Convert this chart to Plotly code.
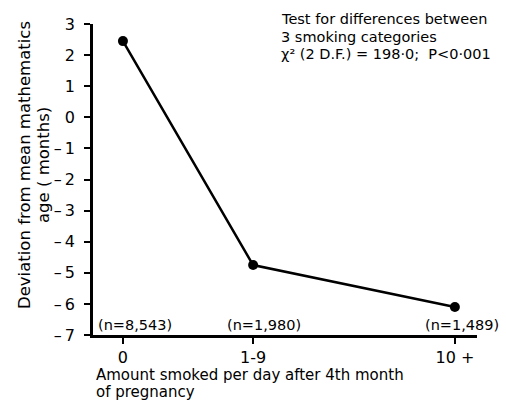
import plotly.graph_objects as go

# Smoking categories and their positions along the horizontal axis
categories = ["0", "1-9", "10 +"]
category_pos = [0, 1, 2.55]
# Deviation from mean mathematics age (months)
deviation = [2.45, -4.75, -6.1]
# Sample sizes per category
sample_labels = ["(n=8,543)", "(n=1,980)", "(n=1,489)"]

y_ticks = [3, 2, 1, 0, -1, -2, -3, -4, -5, -6, -7]
y_ticktext = ["3", "2", "1", "0", "\u2013\u20091", "\u2013\u20092", "\u2013\u20093", "\u2013\u20094",
              "\u2013\u20095", "\u2013\u20096", "\u2013\u20097"]

test_lines = [
    "Test for differences between",
    "3 smoking categories",
    "\u03c7\u00b2 (2 D.F.) = 198\u00b70;  P<0\u00b7001",
]
xtitle_lines = ["Amount smoked per day after 4th month", "of pregnancy"]
ytitle_lines = ["Deviation from mean mathematics", "age ( months)"]

FONT = "DejaVu Sans"
W, H = 506, 401
M_L, M_R, M_T, M_B = 93, 29, 24, 66
PLOT_W = W - M_L - M_R
PLOT_H = H - M_T - M_B


def px_x(x):
    return (x - M_L) / PLOT_W


def px_y(y):
    return (H - M_B - y) / PLOT_H


fig = go.Figure()
fig.add_trace(go.Scatter(
    x=category_pos, y=deviation, mode="lines+markers",
    line=dict(color="black", width=2.5),
    marker=dict(color="black", size=10),
    showlegend=False, cliponaxis=False,
))

# sample size labels just above the x axis
n_label_x = [px_x(97), px_x(264), px_x(500)]
n_label_anchor = ["left", "center", "right"]
for lab, xp, anc in zip(sample_labels, n_label_x, n_label_anchor):
    fig.add_annotation(xref="paper", yref="paper", x=xp, y=0.0, text=lab,
                       xanchor=anc, yanchor="bottom", yshift=1, showarrow=False,
                       borderpad=0, font=dict(size=14.5, color="black", family=FONT))

# statistical test note, one annotation per line for tight spacing
for i, line in enumerate(test_lines):
    fig.add_annotation(
        xref="paper", yref="paper", x=px_x(280), y=px_y(19 + 17.5 * i),
        xanchor="left", yanchor="middle", showarrow=False, text=line, borderpad=0,
        font=dict(size=14.5, color="black", family=FONT),
    )

# horizontal axis title, left aligned under the axis
for i, line in enumerate(xtitle_lines):
    fig.add_annotation(
        xref="paper", yref="paper", x=px_x(95), y=px_y(374.5 + 17.5 * i),
        xanchor="left", yanchor="middle", showarrow=False, text=line, borderpad=0,
        font=dict(size=15, color="black", family=FONT),
    )

# vertical axis title, two rotated lines
for i, line in enumerate(ytitle_lines):
    fig.add_annotation(
        xref="paper", yref="paper", x=px_x(24 + 19 * i), y=px_y(165),
        xanchor="center", yanchor="middle", showarrow=False, text=line, borderpad=0,
        textangle=-90, font=dict(size=16.5, color="black", family=FONT),
    )

fig.update_layout(
    width=W, height=H,
    margin=dict(l=M_L, r=M_R, t=M_T, b=M_B),
    paper_bgcolor="white", plot_bgcolor="white",
    font=dict(family=FONT, color="black"),
    xaxis=dict(
        range=[-0.23, 2.72], tickmode="array", tickvals=category_pos, ticktext=categories,
        showgrid=False, zeroline=False, showline=True, linecolor="black", linewidth=2.5,
        ticks="outside", ticklen=6, tickwidth=2, tickcolor="black",
        tickfont=dict(size=16, family=FONT), fixedrange=True,
    ),
    yaxis=dict(
        range=[-7, 3], tickmode="array", tickvals=y_ticks, ticktext=y_ticktext,
        showgrid=False, zeroline=False, showline=True, linecolor="black", linewidth=2.5,
        ticks="outside", ticklen=6, tickwidth=2, tickcolor="black", ticklabelstandoff=6,
        tickfont=dict(size=16, family=FONT),
    ),
)

fig.write_html("out.html")
